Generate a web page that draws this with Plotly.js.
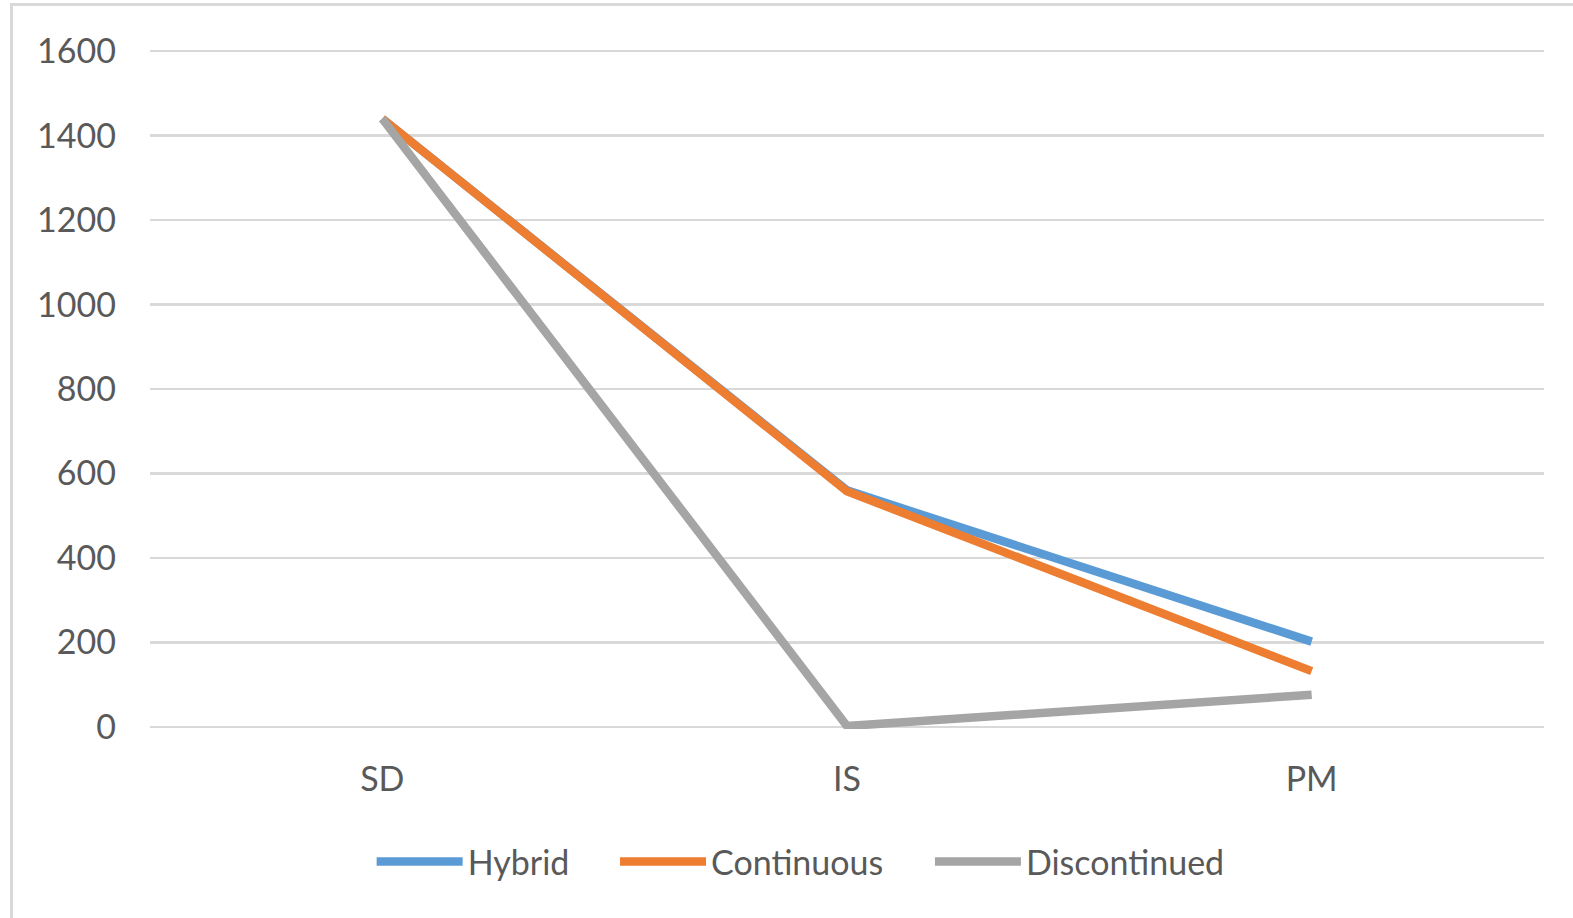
<!DOCTYPE html>
<html>
<head>
<meta charset="utf-8">
<script src="https://cdn.plot.ly/plotly-3.0.1.min.js"></script>
<style>
html,body{margin:0;padding:0;background:#fff;overflow:hidden;}
#frame{position:absolute;left:10px;top:3px;width:1563px;height:915px;border-top:3px solid #d9d9d9;border-left:3px solid #d9d9d9;box-sizing:border-box;}
#chart{position:absolute;left:0;top:0;width:1573px;height:918px;}
</style>
</head>
<body>
<div id="frame"></div>
<div id="chart"></div>
<script>
const categories = ["SD", "IS", "PM"];
const hybrid = [1440, 560, 202];
const continuous = [1440, 558, 132];
const discontinued = [1440, 2, 76];
const seriesNames = ["Hybrid", "Continuous", "Discontinued"];
const colors = ["#5b9bd5", "#ed7d31", "#a5a5a5"];
const yTicks = [0, 200, 400, 600, 800, 1000, 1200, 1400, 1600];
const legendIds = ["legend", "legend2", "legend3"];
const legendX = [0.159, 0.3336, 0.5595];

const data = [hybrid, continuous, discontinued].map((vals, i) => ({
  type: "scatter",
  mode: "lines",
  x: categories,
  y: vals,
  name: seriesNames[i],
  legend: legendIds[i],
  line: {color: colors[i], width: 8.5}
}));

const layout = {
  width: 1573,
  height: 918,
  paper_bgcolor: "rgba(0,0,0,0)",
  plot_bgcolor: "rgba(0,0,0,0)",
  margin: {l: 150, r: 29, t: 46.5, b: 189},
  font: {family: "Lato, 'Open Sans', sans-serif", color: "#595959", size: 34},
  xaxis: {
    type: "category",
    range: [-0.5, 2.5],
    showgrid: false,
    showline: false,
    zeroline: false,
    ticks: "",
    ticklabelstandoff: 27,
    tickfont: {size: 34, color: "#595959"}
  },
  yaxis: {
    range: [-5, 1610],
    tickvals: yTicks,
    ticktext: yTicks.map(String),
    showgrid: true,
    gridcolor: "#d9d9d9",
    gridwidth: 2.5,
    zeroline: true,
    zerolinecolor: "#d9d9d9",
    zerolinewidth: 2.5,
    showline: false,
    ticks: "",
    ticklabelstandoff: 33,
    tickfont: {size: 34, color: "#595959"}
  },
  showlegend: true
};

legendIds.forEach((id, i) => {
  layout[id] = {
    orientation: "h",
    x: legendX[i],
    xanchor: "left",
    y: -0.195,
    yanchor: "middle",
    itemwidth: 86,
    font: {size: 34, color: "#595959"},
    bgcolor: "rgba(0,0,0,0)"
  };
});

Plotly.newPlot("chart", data, layout, {displayModeBar: false, staticPlot: true});
</script>
</body>
</html>
